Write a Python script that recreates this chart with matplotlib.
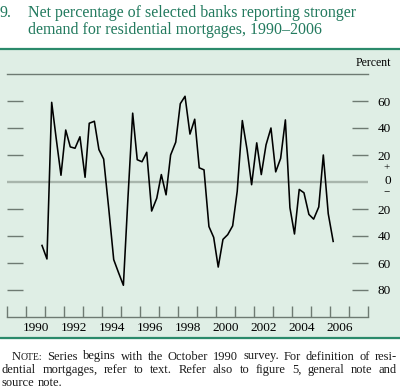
import matplotlib
matplotlib.use('Agg')
import matplotlib.pyplot as plt
from matplotlib.lines import Line2D
from matplotlib.patches import Rectangle

# survey dates (decimal years) and net percentage
dates = [1990.83, 1991.09, 1991.34, 1991.58, 1991.83, 1992.08, 1992.32, 1992.57,
         1992.83, 1993.10, 1993.32, 1993.59, 1993.83, 1994.08, 1994.35, 1994.61,
         1994.86, 1995.12, 1995.36, 1995.61, 1995.85, 1996.10, 1996.35, 1996.61,
         1996.88, 1997.12, 1997.37, 1997.61, 1997.88, 1998.12, 1998.37, 1998.63,
         1998.88, 1999.12, 1999.37, 1999.63, 1999.88, 2000.12, 2000.37, 2000.62,
         2000.88, 2001.12, 2001.39, 2001.64, 2001.88, 2002.15, 2002.39, 2002.64,
         2002.90, 2003.15, 2003.41, 2003.66, 2003.90, 2004.14, 2004.39, 2004.64,
         2004.90, 2005.15, 2005.42, 2005.66, 2005.92, 2006.18]
net_pct = [-47, -57, 59, 32, 5, 38.5, 26, 25,
           33.5, 3.5, 43.5, 45, 24, 17, -20, -57.5,
           -67, -76.5, -12, 51, 16.5, 15, 22, -21.5,
           -12, 5.5, -9.5, 20, 29.5, 58, 63.5, 35.5,
           46.5, 10.5, 9, -33, -41, -63, -42.5, -39,
           -32.5, -7, 45.5, 24, -2, 29, 5.5, 27.5,
           40, 7.5, 17.5, 46, -19, -38.5, -5.5, -8,
           -24, -27.5, -18.5, 20, -23.5, -44]

year_ticks = list(range(1989, 2009))
year_labels = ['1990', '1992', '1994', '1996', '1998', '2000', '2002', '2004', '2006']
ytick_vals = [-80, -60, -40, -20, 20, 40, 60]

title_lines = ['Net percentage of selected banks reporting stronger',
               'demand for residential mortgages, 1990\u20132006']
note_lines = ['Series begins with the October 1990 survey. For definition of resi-',
              'dential mortgages, refer to text. Refer also to figure 5, general note and',
              'source note.']

W, H = 400, 388
BG = '#dfeee5'
TEAL = '#2b8a6b'
TITLE_C = '#227a5e'
GREY = '#6e7a72'

plt.rcParams['font.family'] = ['Liberation Serif', 'DejaVu Serif']
fig = plt.figure(figsize=(W / 100, H / 100), dpi=100)


def fx(px):
    return px / W


def fy(py):
    return 1 - py / H


# green panel and teal rules
fig.patches.append(Rectangle((0, fy(338)), 1, fy(50) - fy(338),
                             transform=fig.transFigure, color=BG, zorder=-5))
for yy in (49, 338):
    fig.add_artist(Line2D([0, 1], [fy(yy), fy(yy)], color=TEAL, lw=1.6, zorder=-4))

ax = fig.add_axes([fx(7.3), fy(317), fx(367.7) - fx(7.3), fy(74) - fy(317)])
ax.set_zorder(2)
ax.set_facecolor('none')
ax.set_xlim(1989, 2008)
ax.set_ylim(-100, 80)

ax.axhline(0, color='#a8b5ac', lw=1.7, zorder=2)
ax.axhline(80, color=GREY, lw=1.0, zorder=2, clip_on=False)
ax.plot(dates, net_pct, color='black', lw=1.15, zorder=3)

for s in ['top', 'left', 'right']:
    ax.spines[s].set_visible(False)
ax.spines['bottom'].set_color(GREY)
ax.spines['bottom'].set_linewidth(1.0)

# x axis: year ticks, labels centred in the year
ax.set_xticks(year_ticks)
ax.set_xticks([int(y) + 0.5 for y in year_labels], minor=True)
ax.set_xticklabels(year_labels, minor=True)
ax.tick_params(axis='x', which='major', direction='in', length=8, width=1.0,
               color=GREY, labelbottom=False)
ax.tick_params(axis='x', which='minor', length=0, pad=3.5, labelsize=9.5)

# y axis: dashes on both sides, labels on the right
ax.set_yticks(ytick_vals)
ax.set_yticklabels([str(abs(v)) for v in ytick_vals])
ax.tick_params(axis='y', direction='in', length=11.5, width=1.0, color=GREY,
               left=True, right=True, labelleft=False, labelright=True,
               pad=16.8, labelsize=9.5)
for t in ax.yaxis.get_major_ticks():
    t.label2.set_horizontalalignment('right')

xr = 1 + (391 - 367.7) / (367.7 - 7.3)
tr = ax.get_yaxis_transform()
ax.text(xr, 0.5, '0', transform=tr, ha='right', va='center', size=9.5)
ax.text(xr - 0.003, 10.5, '+', transform=tr, ha='right', va='center', size=8)
ax.text(xr - 0.003, -8, '\u2212', transform=tr, ha='right', va='center', size=8)
ax.text(xr, 88.5, 'Percent', transform=tr, ha='right', va='center', size=8.5)

# title
TITLE_SIZE = 11.5
fig.text(fx(0), fy(17), '9.', size=TITLE_SIZE, color=TITLE_C, va='baseline')
fig.text(fx(28), fy(17), title_lines[0], size=TITLE_SIZE, color=TITLE_C, va='baseline')
fig.text(fx(28), fy(33.5), title_lines[1], size=TITLE_SIZE, color=TITLE_C, va='baseline')

# note, justified
renderer = fig.canvas.get_renderer()
NOTE_SIZE = 9.0
NOTE_C = '#1a1a1a'


def place_line(words, x0, x1, yb, justify=True):
    # words: list of lists of (text, size) pieces
    items = []
    for w in words:
        pieces = []
        for s, sz in w:
            t = fig.text(0, fy(yb), s, size=sz, color=NOTE_C, va='baseline')
            pieces.append((t, t.get_window_extent(renderer).width))
        items.append(pieces)
    widths = [sum(p[1] for p in it) for it in items]
    if justify and len(items) > 1:
        gap = (x1 - x0 - sum(widths)) / (len(items) - 1)
    else:
        sp = fig.text(0, 0, 'a a', size=NOTE_SIZE)
        sp2 = fig.text(0, 0, 'aa', size=NOTE_SIZE)
        gap = sp.get_window_extent(renderer).width - sp2.get_window_extent(renderer).width
        sp.remove()
        sp2.remove()
    x = x0
    for it in items:
        for t, w in it:
            t.set_x(fx(x))
            x += w
        x += gap


first = [[('N', NOTE_SIZE), ('OTE:', NOTE_SIZE * 0.78)]]
line1 = first + [[(w, NOTE_SIZE)] for w in note_lines[0].split()]
place_line(line1, 12, 397, 359.5)
place_line([[(w, NOTE_SIZE)] for w in note_lines[1].split()], 2, 397, 373)
place_line([[(w, NOTE_SIZE)] for w in note_lines[2].split()], 2, 397, 386, justify=False)

fig.savefig('out.png', dpi=100)
